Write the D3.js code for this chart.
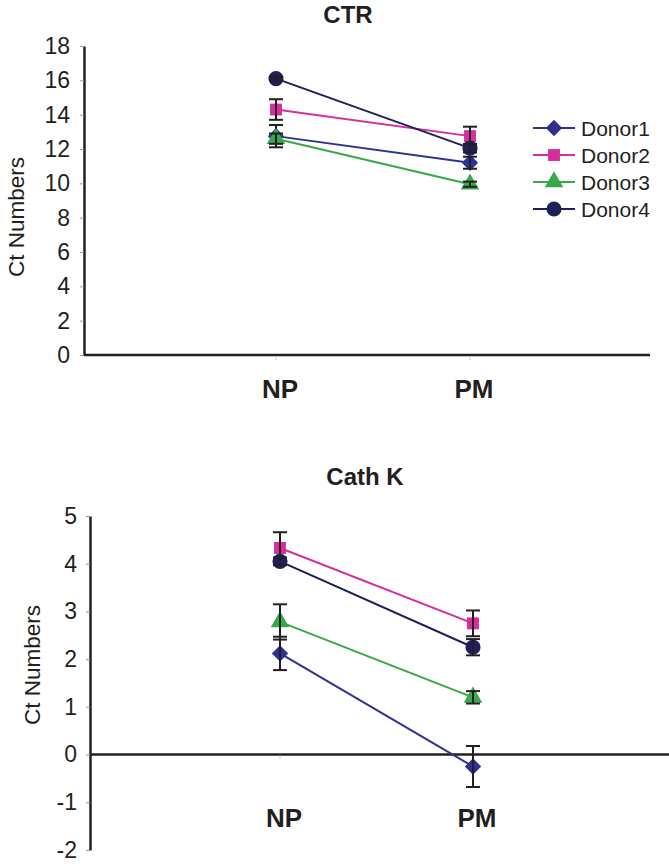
<!DOCTYPE html>
<html>
<head>
<meta charset="utf-8">
<script src="https://cdn.jsdelivr.net/npm/d3@7"></script>
<style>
  body { margin: 0; background: #fff; }
  svg { display: block; font-family: "Liberation Sans", Arial, sans-serif; }
</style>
</head>
<body>
<div id="chart"></div>
<script>
// categories and series
const groups = ["NP", "PM"];
const donors = ["Donor1", "Donor2", "Donor3", "Donor4"];
const colors = ["#2e3192", "#d42f9b", "#36a94a", "#1f1f5c"];
const shapes = ["diamond", "square", "triangle", "circle"];

// CTR chart values (NP, PM) and error bars
const ctrValues = [[12.75, 11.2], [14.3, 12.75], [12.6, 9.95], [16.1, 12.05]];
const ctrErrors = [[0.65, 0.35], [0.6, 0.55], [0.3, 0.15], [0.1, 0.25]];
const ctrTicks = [0, 2, 4, 6, 8, 10, 12, 14, 16, 18];

// Cath K chart values (NP, PM) and error bars
const cathValues = [[2.12, -0.25], [4.33, 2.75], [2.78, 1.2], [4.05, 2.25]];
const cathErrors = [[0.35, 0.43], [0.33, 0.27], [0.37, 0.13], [0.08, 0.17]];
const cathTicks = [-2, -1, 0, 1, 2, 3, 4, 5];

const width = 669, height = 866;
const svg = d3.select("#chart").append("svg")
  .attr("width", width)
  .attr("height", height);

const ink = "#231f20";

function symbolFor(shape) {
  if (shape === "diamond") return d3.symbol().type(d3.symbolDiamond2).size(170);
  if (shape === "square") return d3.symbol().type(d3.symbolSquare2).size(180);
  if (shape === "triangle") return d3.symbol().type(d3.symbolTriangle).size(150);
  return d3.symbol().type(d3.symbolCircle).size(180);
}

function drawChart(cfg) {
  const g = svg.append("g");
  const y = d3.scaleLinear().domain(cfg.domain).range([cfg.bottom, cfg.top]);
  const x = d3.scalePoint().domain(groups).range(cfg.xRange);

  // title
  g.append("text")
    .attr("x", cfg.titleX).attr("y", cfg.titleY)
    .attr("text-anchor", "middle")
    .attr("font-size", 24).attr("font-weight", "bold").attr("fill", ink)
    .text(cfg.title);

  // y axis
  const yAxis = g.append("g")
    .attr("transform", `translate(${cfg.axisX},0)`)
    .call(d3.axisLeft(y).tickValues(cfg.ticks).tickFormat(d => String(d))
      .tickSize(4).tickPadding(cfg.pad).tickSizeOuter(0));
  yAxis.select(".domain").attr("stroke", ink).attr("stroke-width", 2.5);
  yAxis.selectAll(".tick line").attr("stroke", "#999").attr("stroke-width", 1);
  yAxis.selectAll(".tick text")
    .attr("font-size", 23).attr("fill", ink)
    .attr("font-family", "Liberation Sans, Arial, sans-serif");

  // x axis line at zero
  const y0 = y(0);
  g.append("line")
    .attr("x1", cfg.axisX).attr("x2", cfg.xEnd)
    .attr("y1", y0).attr("y2", y0)
    .attr("stroke", ink).attr("stroke-width", 2.5);
  g.selectAll(".xtick").data(groups).enter().append("line")
    .attr("x1", d => x(d)).attr("x2", d => x(d))
    .attr("y1", y0 + 1).attr("y2", y0 + 5)
    .attr("stroke", "#ccc").attr("stroke-width", 1);

  // category labels
  g.selectAll(".xlab").data(groups).enter().append("text")
    .attr("x", d => x(d) + 4).attr("y", cfg.labelY)
    .attr("text-anchor", "middle")
    .attr("font-size", 26).attr("font-weight", "bold").attr("fill", ink)
    .text(d => d);

  // y axis title
  g.append("text")
    .attr("transform", `translate(${cfg.yTitleX},${cfg.yTitleY}) rotate(-90)`)
    .attr("text-anchor", "middle")
    .attr("font-size", 22.5).attr("fill", ink)
    .text("Ct Numbers");

  const line = d3.line().x((d, i) => x(groups[i])).y(d => y(d));

  donors.forEach((name, k) => {
    const vals = cfg.values[k];
    const errs = cfg.errors[k];
    g.append("path")
      .datum(vals)
      .attr("d", line)
      .attr("fill", "none")
      .attr("stroke", colors[k])
      .attr("stroke-width", 2);

    vals.forEach((v, i) => {
      const cx = x(groups[i]);
      g.append("path")
        .attr("d", symbolFor(shapes[k])())
        .attr("transform", `translate(${cx},${y(v)})`)
        .attr("fill", colors[k]);
    });

    vals.forEach((v, i) => {
      const cx = x(groups[i]);
      const top = y(v + errs[i]), bot = y(v - errs[i]);
      const eb = g.append("g").attr("stroke", ink).attr("stroke-width", 2);
      eb.append("line").attr("x1", cx).attr("x2", cx).attr("y1", top).attr("y2", bot);
      eb.append("line").attr("x1", cx - 7).attr("x2", cx + 7).attr("y1", top).attr("y2", top);
      eb.append("line").attr("x1", cx - 7).attr("x2", cx + 7).attr("y1", bot).attr("y2", bot);
    });
  });

  return g;
}

drawChart({
  title: "CTR", titleX: 348, titleY: 23,
  domain: [0, 18], top: 46, bottom: 355,
  xRange: [276, 470], axisX: 84, xEnd: 650, pad: 10,
  ticks: ctrTicks, values: ctrValues, errors: ctrErrors,
  labelY: 398, yTitleX: 24, yTitleY: 217
});

drawChart({
  title: "Cath K", titleX: 365, titleY: 485,
  domain: [-2, 5], top: 516, bottom: 850,
  xRange: [280, 473], axisX: 90, xEnd: 669, pad: 9,
  ticks: cathTicks, values: cathValues, errors: cathErrors,
  labelY: 827, yTitleX: 40, yTitleY: 665
});

// legend for the CTR chart
const legend = svg.append("g");
donors.forEach((name, k) => {
  const ly = 128 + k * 27;
  legend.append("line")
    .attr("x1", 533).attr("x2", 575).attr("y1", ly).attr("y2", ly)
    .attr("stroke", colors[k]).attr("stroke-width", 2);
  legend.append("path")
    .attr("d", symbolFor(shapes[k])())
    .attr("transform", `translate(554,${ly})`)
    .attr("fill", colors[k]);
  legend.append("text")
    .attr("x", 581).attr("y", ly + 7.5)
    .attr("font-size", 21).attr("fill", ink)
    .text(name);
});
</script>
</body>
</html>
